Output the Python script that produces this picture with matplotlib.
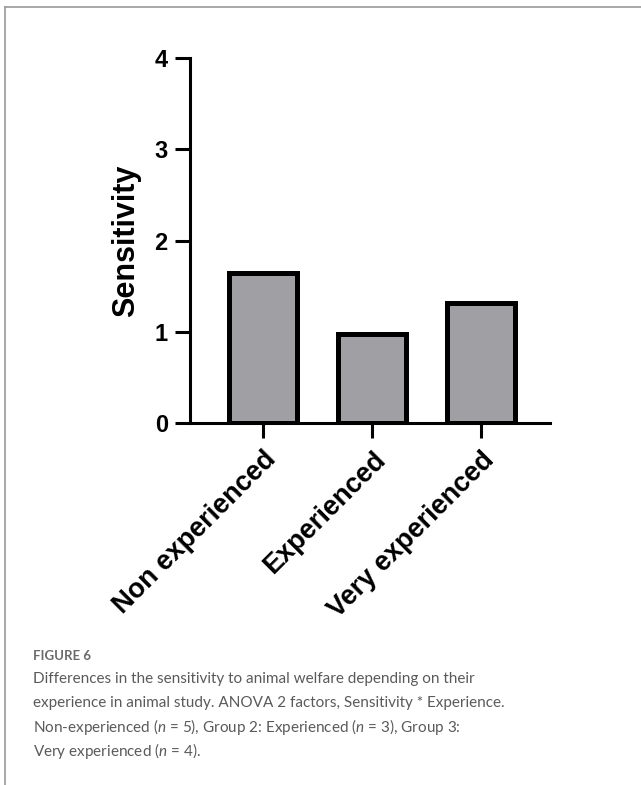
import matplotlib.pyplot as plt
from matplotlib.lines import Line2D

# data
groups = ["Non experienced", "Experienced", "Very experienced"]
sensitivity = [1.64, 0.98, 1.31]
y_ticks = [0, 1, 2, 3, 4]

caption_title = "FIGURE 6"
caption_lines = [
    "Differences in the sensitivity to animal welfare depending on their",
    "experience in animal study. ANOVA 2 factors, Sensitivity * Experience.",
    r"Non-experienced ($\it{n}$ = 5), Group 2: Experienced ($\it{n}$ = 3), Group 3:",
    r"Very experienced ($\it{n}$ = 4).",
]

plt.rcParams['mathtext.fontset'] = 'custom'
plt.rcParams['mathtext.it'] = 'Lato:italic'
plt.rcParams['mathtext.rm'] = 'Lato'

fig = plt.figure(figsize=(6.41, 7.85), dpi=100)

# card border (left + top)
fig.add_artist(Line2D([5/641, 5/641], [0, 1 - 7/785], color='#9a9a9a', lw=1.2))
fig.add_artist(Line2D([5/641, 1], [1 - 7/785, 1 - 7/785], color='#9a9a9a', lw=1.2))

ax = fig.add_axes([190/641, 1 - 423/785, 360/641, 365/785])
x = range(len(groups))
ax.bar(x, sensitivity, width=0.62, color='#a0a0a4', edgecolor='black', linewidth=3.6)
ax.set_xlim(-0.67, 2.63)
ax.set_ylim(0, 4)
ax.set_yticks(y_ticks)
ax.set_xticks(list(x))
ax.set_xticklabels(groups, rotation=45, ha='right', rotation_mode='anchor',
                   fontsize=19.5, fontweight='bold', family='Liberation Sans')
for lab in ax.get_yticklabels():
    lab.set_fontsize(17)
    lab.set_fontweight('bold')
    lab.set_family('Liberation Sans')
ax.set_ylabel("Sensitivity", fontsize=22, fontweight='bold', family='Liberation Sans', labelpad=10)

for s in ['top', 'right']:
    ax.spines[s].set_visible(False)
for s in ['left', 'bottom']:
    ax.spines[s].set_linewidth(2.2)
ax.tick_params(width=2.2, length=11, pad=5)
ax.tick_params(axis='x', pad=6)

fig.text(33/641, 1 - 656/785, caption_title, fontsize=9.5, color='#6a6a6a',
         family='Lato', fontweight='bold', va='center')
for i, line in enumerate(caption_lines):
    fig.text(33/641, 1 - (679 + i * 24) / 785, line, fontsize=11, color='#5a5a5a',
             family='Lato', va='center')

fig.savefig("out.png", dpi=100)
